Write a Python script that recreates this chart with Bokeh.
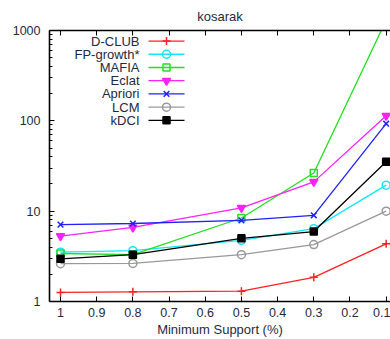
from bokeh.plotting import figure
from bokeh.models import (Range1d, FixedTicker, LinearAxis, Label, LinearScale,
                          CustomLabelingPolicy)
from bokeh.embed import file_html
from bokeh.resources import INLINE

# ---- data ----
support = [1.0, 0.8, 0.5, 0.3, 0.1]
dclub = [1.26, 1.28, 1.30, 1.85, 4.35]
fpgrowth = [3.52, 3.65, 4.75, 6.4, 19.4]
mafia = [3.4, 3.3, 8.4, 26.5, 1300]
eclat = [5.3, 6.6, 10.9, 21.1, 114]
apriori = [7.1, 7.3, 7.9, 9.0, 93]
lcm = [2.62, 2.64, 3.3, 4.27, 10.0]
kdci = [2.97, 3.3, 5.0, 5.95, 35.3]

series_names = ["D-CLUB", "FP-growth*", "MAFIA", "Eclat", "Apriori", "LCM", "kDCI"]
series_values = [dclub, fpgrowth, mafia, eclat, apriori, lcm, kdci]
series_colors = ["#ff2020", "#10e8ff", "#20e020", "#ff20ff", "#2020ff", "#999999", "#000000"]
series_markers = ["cross", "circle", "square", "inverted_triangle", "x", "circle", "square"]
series_filled = [False, False, False, True, False, False, True]

x_ticks = [1.0, 0.9, 0.8, 0.7, 0.6, 0.5, 0.4, 0.3, 0.2, 0.1]
x_tick_labels = ["1", "0.9", "0.8", "0.7", "0.6", "0.5", "0.4", "0.3", "0.2", "0.1"]
y_ticks = [1, 10, 100, 1000]
y_tick_labels = ["1", "10", "100", "1000"]
y_minor = [m * d for d in (1, 10, 100) for m in range(2, 10)]

FONT = "Liberation Sans"
TXT = "#1e2a40"
FRAME_W, FRAME_H = 341, 270   # pixel space used for the legend layout

p = figure(width=390, height=339, y_axis_type="log",
           x_range=Range1d(1.0304, 0.088), y_range=Range1d(1, 1000),
           output_backend="svg", toolbar_location=None,
           min_border_left=49, min_border_right=0, min_border_top=30, min_border_bottom=38,
           title="kosarak")
p.extra_x_ranges = {"px": Range1d(0, FRAME_W)}
p.extra_y_ranges = {"py": Range1d(FRAME_H, 0)}
p.extra_x_scales = {"px": LinearScale()}
p.extra_y_scales = {"py": LinearScale()}

p.outline_line_color = None
p.xgrid.visible = False
p.ygrid.visible = False
p.background_fill_color = "white"
p.border_fill_color = "white"

p.title.align = "center"
p.title.text_font = FONT
p.title.text_font_style = "normal"
p.title.text_font_size = "13px"
p.title.text_color = TXT
p.title.standoff = 6
p.title.offset = 2

# x axis below
xa = p.xaxis[0]
xa.ticker = FixedTicker(ticks=x_ticks)
xa.major_label_overrides = {t: l for t, l in zip(x_ticks, x_tick_labels)}
xa.axis_label = "Minimum Support (%)"

# y axis
ya = p.yaxis[0]
ya.ticker = FixedTicker(ticks=y_ticks, minor_ticks=y_minor)
ya.major_label_overrides = {t: l for t, l in zip(y_ticks, y_tick_labels)}

top = LinearAxis(ticker=FixedTicker(ticks=x_ticks), major_label_standoff=0,
                 major_label_policy=CustomLabelingPolicy(code="return new Set()"))
p.add_layout(top, "above")

for ax in (xa, ya, top):
    ax.axis_line_color = "black"
    ax.axis_line_width = 1.6
    ax.major_tick_line_color = "black"
    ax.minor_tick_line_color = "black"
    ax.major_tick_in = 5
    ax.major_tick_out = 0
    ax.minor_tick_in = 3
    ax.minor_tick_out = 0
    ax.major_label_text_font = FONT
    ax.major_label_text_color = TXT
    ax.axis_label_text_font = FONT
    ax.axis_label_text_color = TXT
    ax.axis_label_text_font_style = "normal"
    ax.axis_label_text_font_size = "13px"

xa.major_label_text_font_size = "12.5px"
ya.major_label_text_font_size = "12.5px"
top.major_label_text_font_size = "1px"
xa.minor_tick_line_color = None
top.minor_tick_line_color = None
xa.major_label_standoff = 6
xa.axis_label_standoff = 2
ya.major_label_standoff = 9

for name, vals, col, mk, filled in zip(series_names, series_values, series_colors,
                                        series_markers, series_filled):
    p.line(support, vals, line_color=col, line_width=1.3)
    p.scatter(support, vals, marker=mk, size=7 if mk == "square" else 8,
              line_color=col, line_width=1.5, fill_color=col if filled else None)

# legend (text on the left, sample on the right), laid out in frame pixels
LEG_TOP, LEG_STEP = 10.5, 13.17
TEXT_RIGHT, SAMPLE_X0, SAMPLE_X1 = 90, 99, 135
for i, (name, col, mk, filled) in enumerate(zip(series_names, series_colors,
                                                series_markers, series_filled)):
    ly = LEG_TOP + i * LEG_STEP
    p.line([SAMPLE_X0, SAMPLE_X1], [ly, ly], line_color=col, line_width=1.3,
           x_range_name="px", y_range_name="py")
    p.scatter([(SAMPLE_X0 + SAMPLE_X1) / 2], [ly], marker=mk,
              size=7 if mk == "square" else 8, line_color=col, line_width=1.5,
              fill_color=col if filled else None, x_range_name="px", y_range_name="py")
    p.add_layout(Label(x=TEXT_RIGHT, y=ly, x_range_name="px", y_range_name="py",
                       text=name, text_align="right", text_baseline="middle",
                       text_font=FONT, text_font_size="13px", text_color=TXT))

open("out.html", "w").write(file_html(p, INLINE))
